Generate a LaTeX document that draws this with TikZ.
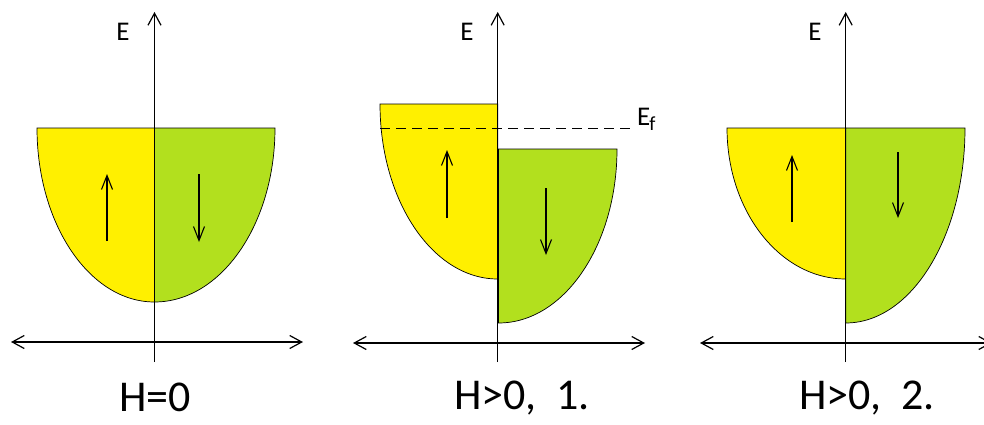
\documentclass[tikz,border=0pt]{standalone}
\usepackage{fontspec}
\setmainfont{Carlito}
\usetikzlibrary{arrows.meta}
\definecolor{jaune}{RGB}{255,240,0}
\definecolor{vert}{RGB}{178,224,30}
\begin{document}
\begin{tikzpicture}[x=1pt, y=1pt]
  % Styles du schéma
  \tikzset{
    barb/.tip={Straight Barb[length=12pt,width=13pt]},
    axis/.style={line width=1.2pt},
    bandup/.style={fill=jaune, draw=black, line width=0.7pt},
    banddown/.style={fill=vert, draw=black, line width=0.7pt},
    spin/.style={-{Straight Barb[length=14pt,width=11pt]}, line width=1.1pt},
    guide/.style={dashed, dash pattern=on 10pt off 6pt, line width=0.9pt},
    lab/.style={font=\fontsize{27}{27}\selectfont, inner sep=0pt},
    title/.style={font=\fontsize{44}{44}\selectfont, inner sep=0pt}
  }
  \useasboundingbox (0,0) rectangle (984,424);

  % --- H=0 : bandes symétriques ---
  \draw[bandup] (154.5,296) -- (37,296) arc[start angle=180, end angle=270, x radius=117.5, y radius=174] -- cycle;
  \draw[banddown] (154.5,296) -- (275,296) arc[start angle=0, end angle=-90, x radius=120.5, y radius=174] -- cycle;
  \draw[axis, barb-barb] (11,82) -- (303,82);
  \draw[axis, -barb] (154.5,62) -- (154.5,412);
  \draw[spin] (107,183) -- (107,250);
  \draw[spin] (199,250) -- (199,182);
  \node[lab] (E1) at (123,392) {E};
  \node[title] (H1) at (155,27) {H=0};

  % --- H>0, cas 1 : bandes décalées, niveau de Fermi ---
  \draw[bandup] (497.7,320) -- (380,320) arc[start angle=180, end angle=270, x radius=117.7, y radius=175] -- cycle;
  \draw[banddown] (498.5,275) -- (617,275) arc[start angle=0, end angle=-90, x radius=118.5, y radius=174] -- cycle;
  \draw[guide] (380,296) -- (633,296);
  \node[lab, anchor=base west] (Ef) at (637,299) {E\kern-1pt\textsubscript{\fontsize{20}{20}\selectfont f}};
  \draw[axis, barb-barb] (353,81) -- (645,81);
  \draw[axis, -barb] (497.7,62) -- (497.7,412);
  \draw[spin] (447,206) -- (447,274);
  \draw[spin] (546,236) -- (546,169);
  \node[lab] (E2) at (467,392) {E};
  \node[title] (H2) at (522,26) {H>0,\ \ 1.};

  % --- H>0, cas 2 : bandes au même niveau ---
  \draw[bandup] (845.7,296) -- (727,296) arc[start angle=180, end angle=270, x radius=118.7, y radius=151] -- cycle;
  \draw[banddown] (845.7,296) -- (965,296) arc[start angle=0, end angle=-90, x radius=119.3, y radius=195] -- cycle;
  \draw[axis, barb-barb] (700,81) -- (992,81);
  \draw[axis, -barb] (845.7,62) -- (845.7,412);
  \draw[spin] (792,202) -- (792,269);
  \draw[spin] (898,272) -- (898,206);
  \node[lab] (E3) at (815,392) {E};
  \node[title] (H3) at (867,26) {H>0,\ \ 2.};
\end{tikzpicture}
\end{document}
